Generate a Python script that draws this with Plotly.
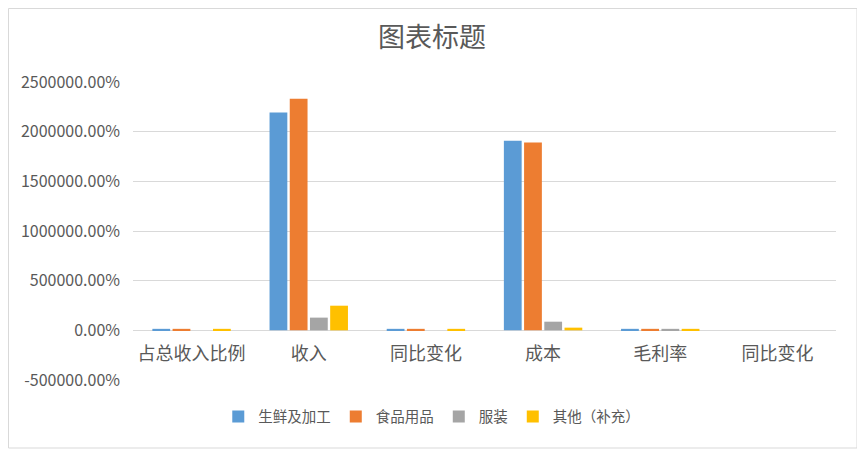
import plotly.graph_objects as go

# chart data (values are fractions, shown as percent on the axis)
categories = ["占总收入比例", "收入", "同比变化", "成本", "毛利率", "同比变化"]
series_names = ["生鲜及加工", "食品用品", "服装", "其他（补充）"]
fresh = [150, 21930, 150, 19080, 150, 0]
food = [150, 23310, 150, 18910, 150, 0]
clothing = [0, 1280, 0, 870, 150, 0]
other = [150, 2480, 150, 270, 150, 0]
y_ticks = [-5000, 0, 5000, 10000, 15000, 20000, 25000]

colors = ["#5B9BD5", "#ED7D31", "#A5A5A5", "#FFC000"]
FONT = "Noto Sans CJK SC"
GREY = "#595959"

x_pos = list(range(len(categories)))

fig = go.Figure()
for name, vals, col in zip(series_names, [fresh, food, clothing, other], colors):
    fig.add_bar(name=name, x=x_pos, y=vals, marker_color=col,
                marker_line_width=0)

y_min, y_max = y_ticks[0], y_ticks[-1]
zero_pos = (0 - y_min) / (y_max - y_min)

# page body has an 8px margin, so the figure is sized to fit the window
W, H = 857, 447
fig.update_layout(
    width=W,
    height=H,
    margin=dict(l=125, r=29, t=74, b=75),
    paper_bgcolor="white",
    plot_bgcolor="white",
    font=dict(family=FONT, color=GREY, size=14),
    title=dict(text="图表标题", x=(432 - 8) / W, xanchor="center",
               y=1 - 30 / H, yanchor="middle", yref="container",
               font=dict(size=27, color=GREY, family=FONT)),
    barmode="group",
    bargap=0.31,
    bargroupgap=0.12,
    showlegend=True,
    legend=dict(orientation="h", x=0.425, xanchor="center", y=-0.123,
                yanchor="middle", font=dict(size=14.5, color=GREY),
                itemwidth=30, traceorder="normal"),
)
fig.update_yaxes(
    range=[y_min, y_max],
    tickvals=y_ticks,
    ticktext=[f"{v * 100:.2f}%" for v in y_ticks],
    showgrid=True, gridcolor="#D9D9D9", gridwidth=1,
    zeroline=True, zerolinecolor="#D9D9D9", zerolinewidth=1,
    showline=False, ticks="", ticklabelstandoff=12,
    tickfont=dict(size=16, color=GREY),
)
fig.update_xaxes(
    tickvals=x_pos, ticktext=categories,
    range=[-0.5, len(categories) - 0.5],
    anchor="free", position=zero_pos,
    showgrid=False, zeroline=False, showline=False, ticks="",
    ticklabelstandoff=11,
    tickfont=dict(size=18, color=GREY),
)

# outer chart border
fig.add_shape(type="rect", xref="paper", yref="paper",
              x0=(8.5 - 133) / 703, x1=(857 - 133) / 703,
              y0=(380 - 448) / 298, y1=(380 - 8.5) / 298,
              line=dict(color="#D9D9D9", width=1), fillcolor="rgba(0,0,0,0)",
              layer="below")

fig.write_html("out.html")
